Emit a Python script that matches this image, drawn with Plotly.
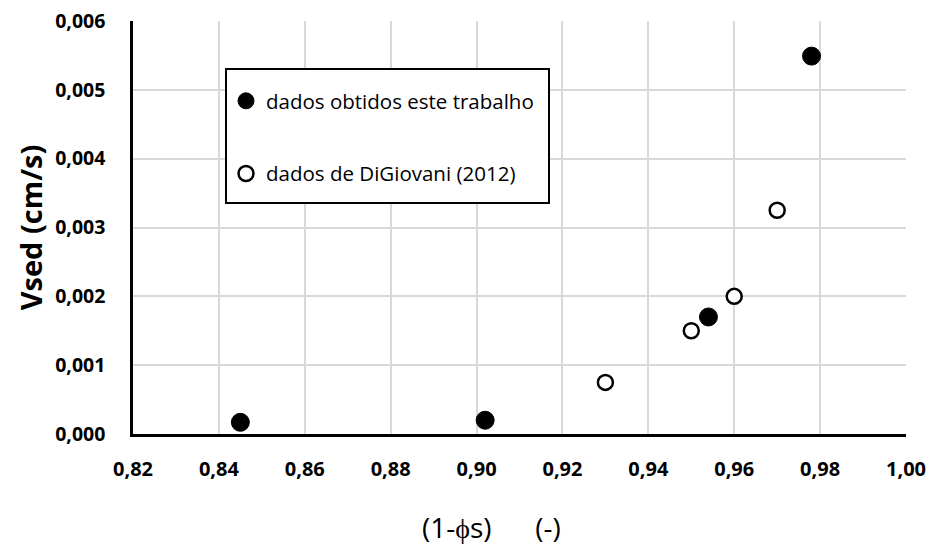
import plotly.graph_objects as go

# Data
x_this_work = [0.845, 0.902, 0.954, 0.978]
y_this_work = [0.00017, 0.00020, 0.00170, 0.00549]

x_digiovani = [0.930, 0.950, 0.960, 0.970]
y_digiovani = [0.00075, 0.00150, 0.00200, 0.00325]

name_this_work = "dados obtidos este trabalho"
name_digiovani = "dados de DiGiovani (2012)"

x_title = "(1-\u03d5s)\u00a0\u00a0\u00a0\u00a0\u00a0\u00a0(-)"
y_title = "Vsed (cm/s)"

FONT = "Open Sans"

fig = go.Figure()
fig.add_trace(go.Scatter(
    x=x_this_work, y=y_this_work, mode="markers", name=name_this_work,
    legendgroup="a",
    marker=dict(symbol="circle", size=18, color="black",
                line=dict(color="black", width=1)),
))
fig.add_trace(go.Scatter(
    x=x_digiovani, y=y_digiovani, mode="markers", name=name_digiovani,
    legendgroup="b",
    marker=dict(symbol="circle", size=15, color="white",
                line=dict(color="black", width=2.5)),
))

W, H = 929, 547
L, R, T, B = 133, 23, 21, 113
pw, ph = W - L - R, H - T - B

def px(xp):
    return (xp - L) / pw

def py(yp):
    return (H - B - yp) / ph

fig.add_shape(type="rect", xref="paper", yref="paper",
              x0=px(226), x1=px(549), y0=py(203), y1=py(69),
              line=dict(color="black", width=2), fillcolor="white",
              layer="above")

fig.add_annotation(text=x_title, xref="paper", yref="paper",
                   x=px(491), y=py(527), xanchor="center", yanchor="middle",
                   showarrow=False,
                   font=dict(family=FONT, size=28, color="black"))

fig.update_layout(
    width=W, height=H,
    margin=dict(l=L, r=R, t=T, b=B, autoexpand=False),
    paper_bgcolor="white", plot_bgcolor="white",
    separators=", ",
    font=dict(family=FONT, color="black"),
    showlegend=True,
    legend=dict(
        x=px(226), y=py(81), xanchor="left", yanchor="top",
        bgcolor="rgba(0,0,0,0)", borderwidth=0,
        font=dict(family=FONT, size=20.5, color="black"),
        tracegroupgap=43, itemwidth=30,
    ),
    xaxis=dict(
        range=[0.82, 1.00], dtick=0.02, tick0=0.82, tickformat=".2f",
        showgrid=True, gridcolor="#d9d9d9", gridwidth=1.5,
        showline=True, linecolor="black", linewidth=2.5,
        zeroline=False, ticks="outside", ticklen=15, tickcolor="rgba(0,0,0,0)",
        tickfont=dict(family=FONT, size=20, color="black", weight="bold"),
    ),
    yaxis=dict(
        range=[0, 0.006], dtick=0.001, tickformat=".3f",
        showgrid=True, gridcolor="#d9d9d9", gridwidth=1.5,
        showline=True, linecolor="black", linewidth=2.5,
        zeroline=False, ticks="outside", ticklen=21, tickcolor="rgba(0,0,0,0)",
        tickfont=dict(family=FONT, size=19.5, color="black", weight="bold"),
        title=dict(text=y_title, standoff=5,
                   font=dict(family=FONT, size=29, color="black", weight="bold")),
    ),
)

fig.write_html("out.html")
